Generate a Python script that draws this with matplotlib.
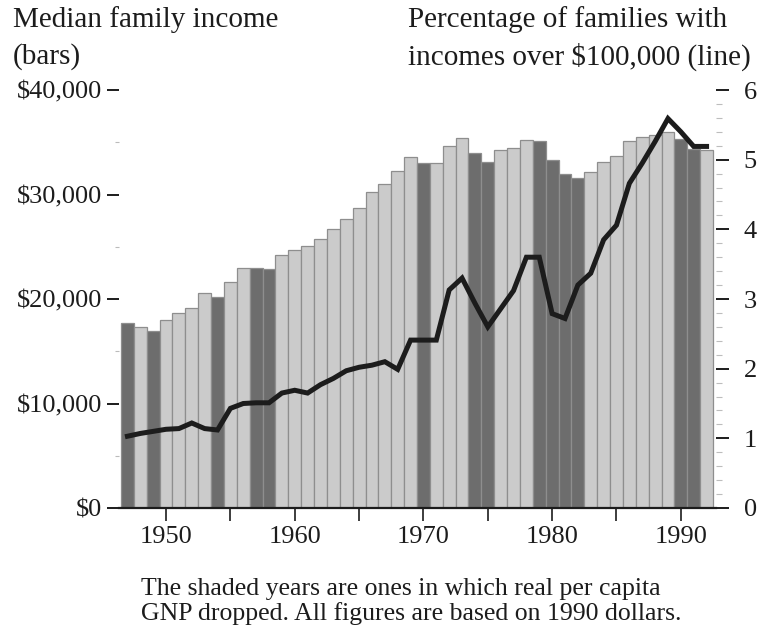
import matplotlib
matplotlib.use("Agg")
import matplotlib.pyplot as plt
from matplotlib.ticker import MultipleLocator, FixedLocator

plt.rcParams['font.family'] = ['Liberation Serif', 'DejaVu Serif']

# Data (1990 dollars)
years = list(range(1947, 1993))
median_income = [17670, 17290, 16970, 17990, 18630, 19110, 20600, 20220, 21600, 22940,
                 22940, 22840, 24210, 24690, 25070, 25710, 26670, 27620, 28680, 30270,
                 31000, 32280, 33560, 32980, 33050, 34640, 35370, 33940, 33140, 34260,
                 34420, 35220, 35150, 33300, 31960, 31550, 32180, 33140, 33680, 35150,
                 35530, 35700, 36010, 35280, 34320, 34260]
pct_over_100k = [1.03, 1.07, 1.10, 1.13, 1.14, 1.22, 1.14, 1.12, 1.43, 1.50,
                 1.51, 1.51, 1.65, 1.69, 1.65, 1.77, 1.86, 1.97, 2.02, 2.05,
                 2.10, 1.99, 2.41, 2.41, 2.41, 3.13, 3.30, 2.94, 2.60, 2.86,
                 3.12, 3.60, 3.60, 2.79, 2.72, 3.20, 3.37, 3.85, 4.06, 4.66,
                 4.95, 5.26, 5.59, 5.40, 5.19, 5.19]
shaded_years = [1947, 1949, 1954, 1957, 1958, 1970, 1974, 1975,
                1979, 1980, 1981, 1982, 1990, 1991]

income_ticks = [0, 10000, 20000, 30000, 40000]
income_labels = ['$0', '$10,000', '$20,000', '$30,000', '$40,000']
decade_ticks = [1950, 1960, 1970, 1980, 1990]

W, H = 762, 632
fig = plt.figure(figsize=(W / 100, H / 100), dpi=100)
ax = fig.add_axes([119 / W, 124 / H, (716 - 119) / W, (508 - 90) / H])

ink = '#1c1c1c'
light = '#cbcbcb'
dark = '#6d6d6d'
colors = [dark if y in shaded_years else light for y in years]

ax.bar(years, median_income, width=1.0, color=colors, edgecolor='#8e8e8e',
       linewidth=0.9, zorder=2)

ax.set_xlim(1946.345, 1946.345 + 597 / 12.87)
ax.set_ylim(0, 40000)

for side in ['left', 'right', 'top']:
    ax.spines[side].set_visible(False)
ax.spines['bottom'].set_linewidth(1.6)
ax.spines['bottom'].set_color(ink)
ax.spines['bottom'].set_zorder(5)

ax.set_xticks(decade_ticks)
ax.set_xticklabels([str(d) for d in decade_ticks])
ax.xaxis.set_minor_locator(FixedLocator([1955, 1965, 1975, 1985]))
ax.tick_params(axis='x', which='both', length=9, width=1.2, color=ink,
               labelsize=19, labelcolor=ink, pad=4)

ax.set_yticks(income_ticks)
ax.set_yticklabels(income_labels)
ax.yaxis.set_minor_locator(MultipleLocator(5000))
ax.tick_params(axis='y', which='major', length=9, width=1.4, color=ink,
               labelsize=19, labelcolor=ink, pad=3)
ax.tick_params(axis='y', which='minor', length=3, width=0.8, color='#bbbbbb')

# Percentage line on the right scale
ax2 = ax.twinx()
ax2.plot(years, pct_over_100k, color=ink, linewidth=3.6, solid_joinstyle='miter', zorder=4)
ax2.set_ylim(0, 6)
for side in ['left', 'right', 'top', 'bottom']:
    ax2.spines[side].set_visible(False)
ax2.set_yticks(range(0, 7))
ax2.yaxis.set_minor_locator(MultipleLocator(0.2))
ax2.tick_params(axis='y', which='major', length=9, width=1.4, color=ink,
                labelsize=19, labelcolor=ink, pad=11)
ax2.tick_params(axis='y', which='minor', length=4, width=0.8, color='#bdbdbd')

# Headers
fig.text(13 / W, 1 - 20 / H, 'Median family income', fontsize=21, color=ink, va='center')
fig.text(13 / W, 1 - 57 / H, '(bars)', fontsize=21, color=ink, va='center')
fig.text(408 / W, 1 - 20 / H, 'Percentage of families with', fontsize=21, color=ink, va='center')
fig.text(408 / W, 1 - 57 / H, 'incomes over $100,000 (line)', fontsize=21, color=ink, va='center')

# Caption
fig.text(141 / W, 1 - 589 / H, 'The shaded years are ones in which real per capita',
         fontsize=18.5, color=ink, va='center')
fig.text(141 / W, 1 - 614 / H, 'GNP dropped. All figures are based on 1990 dollars.',
         fontsize=18.5, color=ink, va='center')

fig.savefig('out.png', dpi=100, facecolor='white')
